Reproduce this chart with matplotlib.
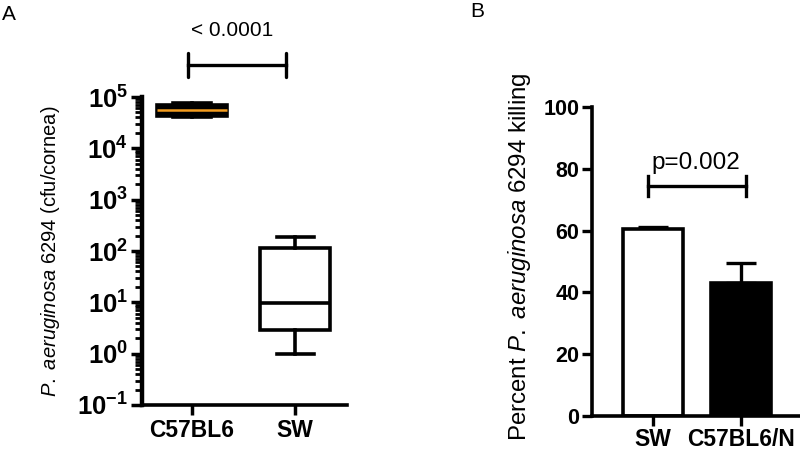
import math
import matplotlib
matplotlib.use("Agg")
from matplotlib import pyplot as plt
from matplotlib.ticker import LogLocator, FixedLocator, NullFormatter, FuncFormatter

plt.rcParams['font.family'] = ['Liberation Sans', 'DejaVu Sans']
plt.rcParams['mathtext.fontset'] = 'custom'
plt.rcParams['mathtext.rm'] = 'Liberation Sans'
plt.rcParams['mathtext.it'] = 'Liberation Sans:italic'
plt.rcParams['mathtext.bf'] = 'Liberation Sans:bold'

# panel A: box summaries (cfu/cornea)
strainsA = ["C57BL6", "SW"]
whislo = [4.0e4, 1.0]
q1 = [4.2e4, 2.9]
med = [5.7e4, 9.7]
q3 = [7.0e4, 115]
whishi = [7.7e4, 188]
pA = "< 0.0001"

# panel B: percent killing
strainsB = ["SW", "C57BL6/N"]
killing = [60.5, 43.0]
killing_err = [0.7, 6.5]
pB = "p=0.002"

fig = plt.figure(figsize=(8, 4.5), dpi=100)

# ---- panel A
axA = fig.add_axes([0.1775, 0.1, 0.434 - 0.1775, 0.7844 - 0.1])
stats = []
for i in range(len(strainsA)):
    stats.append(dict(label=strainsA[i], whislo=whislo[i], q1=q1[i], med=med[i],
                      q3=q3[i], whishi=whishi[i], fliers=[]))
bp = axA.bxp(stats, positions=[1, 2], widths=0.68, capwidths=0.36, patch_artist=True,
             showfliers=False,
             boxprops=dict(linewidth=2.6, edgecolor="black"),
             whiskerprops=dict(linewidth=2.6),
             capprops=dict(linewidth=2.6),
             medianprops=dict(linewidth=2.6, color="black"))
bp["boxes"][0].set_facecolor("black")
bp["boxes"][1].set_facecolor("white")
bp["medians"][0].set_color("#f39c1f")
bp["medians"][0].set_linewidth(1.8)
axA.set_yscale("log")
axA.set_ylim(0.1, 1e5)
axA.set_xlim(0.515, 2.505)
axA.yaxis.set_major_locator(LogLocator(base=10, numticks=10))
axA.yaxis.set_minor_locator(LogLocator(base=10, subs=range(2, 10), numticks=20))
axA.yaxis.set_minor_formatter(NullFormatter())
axA.yaxis.set_major_formatter(FuncFormatter(lambda v, p: r"$\mathbf{10^{%d}}$" % round(math.log10(v))))
axA.tick_params(axis="y", which="major", length=8, width=2.5, labelsize=18.5, pad=2)
axA.tick_params(axis="y", which="minor", length=5, width=2.0)
axA.tick_params(axis="x", length=7, width=2.5, labelsize=16.5, pad=3)
for lab in axA.get_xticklabels():
    lab.set_fontweight("bold")
for s in ["top", "right"]:
    axA.spines[s].set_visible(False)
axA.spines["left"].set_linewidth(3.2)
axA.spines["bottom"].set_linewidth(2.6)
axA.set_ylabel(r"$\mathit{P.}$ $\mathit{aeruginosa}$ 6294 (cfu/cornea)", fontsize=14.5)
axA.yaxis.set_label_coords(-0.39, 0.5)
# significance bar
yb = 4.2e5
axA.plot([0.962, 1.913], [yb, yb], color="black", lw=2.4, clip_on=False)
axA.plot([0.962, 0.962], [yb / 1.7, yb * 1.7], color="black", lw=2.4, clip_on=False, solid_capstyle="round")
axA.plot([1.913, 1.913], [yb / 1.7, yb * 1.7], color="black", lw=2.4, clip_on=False, solid_capstyle="round")
axA.text(1.389, 2.0e6, pA, ha="center", va="center", fontsize=15, clip_on=False)

# ---- panel B
axB = fig.add_axes([0.74, 0.0756, 0.26, 0.762 - 0.0756])
xB = [1, 2]
axB.bar(xB, killing, width=0.68, color=["white", "black"], edgecolor="black", linewidth=2.6, zorder=2)
axB.errorbar(xB, killing, yerr=[[0, 0], killing_err], fmt="none", ecolor="black",
             elinewidth=2.4, capsize=11, capthick=2.4, zorder=1)
axB.set_ylim(0, 100)
axB.set_xlim(0.307, 2.67)
axB.yaxis.set_major_locator(FixedLocator([0, 20, 40, 60, 80, 100]))
axB.set_xticks(xB)
axB.set_xticklabels(strainsB)
axB.tick_params(axis="y", length=7, width=2.4, labelsize=15.5, pad=2)
axB.tick_params(axis="x", length=7, width=2.4, labelsize=16.5, pad=1.5)
for lab in axB.get_xticklabels() + axB.get_yticklabels():
    lab.set_fontweight("bold")
for s in ["top", "right"]:
    axB.spines[s].set_visible(False)
axB.spines["left"].set_linewidth(2.6)
axB.spines["bottom"].set_linewidth(2.6)
axB.set_ylabel(r"Percent $\mathit{P.}$ $\mathit{aeruginosa}$ 6294 killing", fontsize=17.3)
axB.yaxis.set_label_coords(-0.285, 0.516)
yb2 = 74.4
axB.plot([0.943, 2.057], [yb2, yb2], color="black", lw=2.4)
axB.plot([0.943, 0.943], [yb2 - 3.2, yb2 + 3.2], color="black", lw=2.4)
axB.plot([2.057, 2.057], [yb2 - 3.2, yb2 + 3.2], color="black", lw=2.4)
axB.text(1.489, 82, pB, ha="center", va="center", fontsize=17.5)

fig.text(0.002, 0.99, "A", fontsize=15, ha="left", va="top")
fig.text(0.588, 0.995, "B", fontsize=15, ha="left", va="top")

fig.savefig("out.png", dpi=100)
